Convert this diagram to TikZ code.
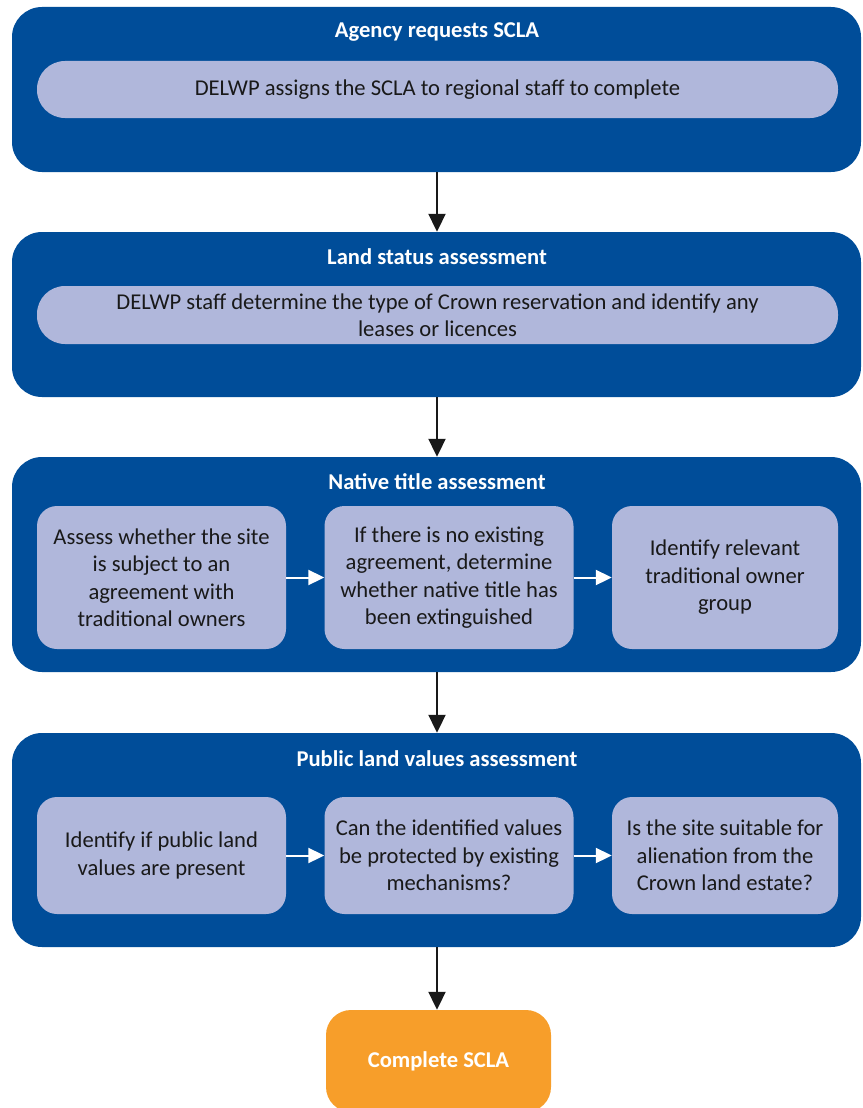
\documentclass[tikz,border=0pt]{standalone}
\usepackage{fontspec}
\setmainfont{Carlito}
\usetikzlibrary{arrows.meta}
\definecolor{stageblue}{RGB}{0,77,153}
\definecolor{steplav}{RGB}{176,183,219}
\definecolor{endorange}{RGB}{247,158,42}

\begin{document}
\begin{tikzpicture}[x=1pt, y=-1pt,
    font=\fontsize{22.6}{27.5}\selectfont,
    stage/.style={fill=stageblue, rounded corners=30pt, minimum width=849pt, inner sep=0pt},
    stagetitle/.style={text=white, font=\fontsize{22.6}{27.5}\selectfont\bfseries},
    pill/.style={fill=steplav, rounded corners=28pt, minimum width=801pt, minimum height=57pt, inner sep=0pt, align=center, text=black!90},
    substep/.style={fill=steplav, rounded corners=20pt, minimum width=249pt, inner sep=0pt, align=center, text=black!90},
    flow/.style={draw=black!90, line width=2pt, -{Triangle[width=17pt, length=18pt]}},
    inflow/.style={draw=white, line width=2pt, -{Triangle[width=15pt, length=16pt]}}]
    \useasboundingbox (0,0) rectangle (862,1108);
    \clip (0,0) rectangle (862,1108);
    % stage 1
    \node [stage, minimum height=165pt] (request) at (436.5,89.5) {};
    \node [stagetitle] (requesttitle) at (437,32) {Agency requests SCLA};
    \node [pill] (assign) at (437.5,89.5) {\raisebox{-2pt}{DELWP assigns the SCLA to regional staff to complete}};
    % stage 2
    \node [stage, minimum height=165pt] (status) at (436.5,314.5) {};
    \node [stagetitle] (statustitle) at (437,257) {Land status assessment};
    \node [pill, minimum height=58pt] (reserve) at (437.5,315) {DELWP staff determine the type of Crown reservation and identify any\\leases or licences};
    % stage 3
    \node [stage, minimum height=215pt] (native) at (436.5,564.5) {};
    \node [stagetitle] (nativetitle) at (437,482) {Native title assessment};
    \node [substep, minimum height=143pt] (agree) at (161.5,577.5) {Assess whether the site\\is subject to an\\agreement with\\traditional owners};
    \node [substep, minimum height=143pt] (extinct) at (449,577.5) {If there is no existing\\agreement, determine\\whether native title has\\been extinguished};
    \node [substep, minimum height=143pt, minimum width=226pt] (owner) at (725,577.5) {Identify relevant\\traditional owner\\group};
    \path [inflow] (agree.east) -- (extinct.west);
    \path [inflow] (extinct.east) -- (owner.west);
    % stage 4
    \node [stage, minimum height=214pt] (values) at (436.5,840) {};
    \node [stagetitle] (valuestitle) at (437,759) {Public land values assessment};
    \node [substep, minimum height=117pt] (present) at (161.5,855.5) {Identify if public land\\values are present};
    \node [substep, minimum height=117pt] (protect) at (449,855.5) {Can the identified values\\be protected by existing\\mechanisms?};
    \node [substep, minimum height=117pt, minimum width=226pt] (suitable) at (725,855.5) {Is the site suitable for\\alienation from the\\Crown land estate?};
    \path [inflow] (present.east) -- (protect.west);
    \path [inflow] (protect.east) -- (suitable.west);
    % end
    \node [fill=endorange, rounded corners=25pt, minimum width=225pt, minimum height=102pt, text=white, font=\fontsize{22.6}{27.5}\selectfont\bfseries] (complete) at (438.5,1061) {Complete SCLA};
    % stage links
    \path [flow] (request.south -| 437,0) -- (status.north -| 437,0);
    \path [flow] (status.south -| 437,0) -- (native.north -| 437,0);
    \path [flow] (native.south -| 437,0) -- (values.north -| 437,0);
    \path [flow] (values.south -| 437,0) -- (complete.north -| 437,0);
\end{tikzpicture}
\end{document}
